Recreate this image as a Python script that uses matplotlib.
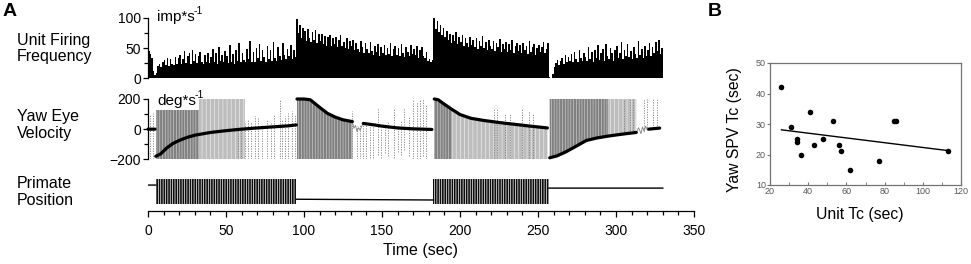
import numpy as np
import matplotlib
matplotlib.use("Agg")
import matplotlib.pyplot as plt
from matplotlib.ticker import MultipleLocator

plt.rcParams['font.family'] = ['Liberation Sans', 'DejaVu Sans']
plt.rcParams['hatch.linewidth'] = 0.5

# ---------------- data: panel A ----------------
# unit firing frequency (imp/s), 1-s bins starting at t = 0
fire_rate = [
    45, 40, 33, 12, 5, 8, 20, 24, 18, 27,
    30, 22, 34, 20, 31, 24, 22, 35, 23, 33,
    38, 24, 32, 45, 25, 36, 42, 24, 47, 28,
    40, 25, 36, 44, 26, 24, 38, 27, 41, 25,
    35, 48, 26, 42, 24, 52, 28, 39, 26, 45,
    37, 25, 55, 27, 40, 24, 46, 29, 58, 26,
    42, 30, 26, 48, 32, 62, 27, 44, 27, 50,
    33, 57, 28, 46, 35, 27, 53, 31, 47, 29,
    60, 34, 28, 52, 37, 30, 58, 39, 32, 49,
    37, 55, 31, 47, 35, 98, 75, 88, 66, 84,
    78, 62, 82, 67, 60, 76, 64, 80, 58, 73,
    61, 74, 56, 70, 53, 68, 72, 54, 66, 57,
    69, 51, 63, 72, 54, 60, 50, 66, 48, 62,
    53, 64, 46, 59, 49, 44, 61, 51, 42, 58,
    48, 41, 60, 45, 39, 54, 43, 57, 37, 51,
    42, 55, 38, 50, 40, 58, 36, 48, 53, 39,
    50, 37, 56, 41, 35, 52, 43, 36, 55, 40,
    49, 38, 54, 34, 46, 51, 36, 33, 43, 28,
    32, 26, 30, 100, 82, 95, 77, 88, 72, 84,
    68, 79, 63, 74, 59, 71, 62, 76, 57, 68,
    60, 72, 54, 67, 58, 51, 69, 55, 64, 52,
    66, 49, 61, 54, 70, 50, 60, 46, 63, 53,
    48, 62, 45, 58, 51, 65, 44, 56, 49, 60,
    43, 57, 47, 63, 42, 53, 59, 45, 55, 41,
    58, 46, 54, 40, 61, 44, 52, 57, 39, 50,
    55, 43, 51, 60, 41, 48, 58, 2, 0, 6,
    18, 25, 30, 22, 28, 33, 24, 38, 27, 35,
    29, 40, 26, 44, 31, 27, 47, 33, 29, 42,
    35, 28, 52, 32, 43, 27, 46, 34, 55, 30,
    41, 48, 29, 57, 36, 32, 50, 41, 28, 46,
    53, 33, 42, 60, 31, 47, 37, 56, 35, 45,
    32, 51, 40, 34, 62, 38, 48, 33, 54, 36,
    46, 58, 37, 52, 41, 60, 45, 63, 40, 50,
]

# slow-phase eye velocity (deg/s); NaN separates segments
spv_t = [0, 4.5, np.nan,
         5, 8, 12, 16, 20, 25, 30, 40, 50, 60, 70, 80, 90, 95, np.nan,
         95.5, 100, 104, 110, 115, 120, 125, 131, np.nan,
         138, 145, 150, 160, 170, 182, np.nan,
         183.5, 186, 190, 195, 200, 207, 215, 225, 235, 245, 256, np.nan,
         257.5, 262, 268, 275, 281, 288, 295, 302, 308, 313, np.nan,
         321, 328]
spv_v = [0, 0, np.nan,
         -180, -165, -125, -95, -75, -55, -40, -22, -10, 0, 8, 15, 22, 28, np.nan,
         200, 200, 195, 145, 105, 80, 62, 50, np.nan,
         38, 28, 20, 8, 2, -2, np.nan,
         200, 195, 165, 130, 97, 72, 58, 44, 32, 20, 8, np.nan,
         -190, -178, -150, -110, -75, -58, -46, -36, -28, -22, np.nan,
         0, 7]

# noisy eye-velocity stretches (deg/s)
noise_t = [131, 132, 133, 134, 135, 136, 137, 138, np.nan,
           313, 314.5, 316, 317, 318, 319, 320, 321]
noise_v = [50, 5, 25, -15, 10, -8, 20, 38, np.nan,
           -22, 10, -30, 15, -15, 20, -5, 0]

# dense fast-phase bands: start, end, low, high (None = follow slow-phase curve)
band_t0 = [5, 33, 95.5, 183.5, 195, 257.5, 295]
band_t1 = [33, 62, 131, 195, 256, 295, 313]
band_lo = [-200, -200, -200, -200, -200, None, None]
band_hi = [130, 200, None, None, None, 200, 200]
band_dense = [True, False, True, True, False, True, False]

# isolated fast phases (time, low, high)
fp_t = [1.5, 3,
        58, 59.5, 62, 64, 66, 68.5, 70.5, 73, 76.5, 79, 81, 84.5, 86, 88, 90, 92, 94,
        130.5, 134, 136, 138, 140, 142, 144, 147.5, 149.5, 152, 154, 157.5, 160, 162,
        164, 167, 170, 172.5, 174.5, 176, 178,
        222, 224, 229, 232, 240, 244, 247,
        305, 309, 311, 318, 320, 324, 326]
fp_lo = [-200, -200,
         -200, -200, -200, -200, -200, -200, -200, -200, -200, -200, -200, -200, -200, -200, -200, -200, -200,
         -200, -200, -200, -200, -200, -190, -190, -170, -190, -160, -180, -190, -150, -170,
         -140, -180, -200, -200, -200, -180, -200,
         -190, -190, -190, -190, -190, -190, -190,
         -30, -25, -25, -10, -5, 5, 5]
fp_hi = [100, 110,
         0, 10, 40, 60, 50, 90, 80, 30, 60, 40, 100, 200, 60, 90, 110, 120, 100,
         120, 20, 30, 30, 40, 20, 30, 140, 10, 20, 50, 140, 30, 60,
         140, 90, 200, 180, 200, 200, 160,
         140, 140, 110, 100, 140, 120, 100,
         200, 200, 200, 200, 200, 200, 200]

# primate position (arbitrary units): steady levels and oscillation epochs
pos_t = [0, 5, np.nan, 95, 183, np.nan, 257, 330]
pos_v = [0.52, 0.52, np.nan, -0.6, -0.66, np.nan, 0.28, 0.28]
osc_start = [5, 183]
osc_end = [95, 257]
osc_amp = [1.0, 1.0]

# ---------------- data: panel B ----------------
unit_tc = [26, 31, 34, 34, 36, 41, 43, 48, 53, 56, 57, 62, 77, 85, 86, 113]
yaw_tc = [42, 29, 25, 24, 20, 34, 23, 25, 31, 23, 21, 15, 18, 31, 31, 21]

# ---------------- layout ----------------
W, H = 971, 264
fig = plt.figure(figsize=(W / 100, H / 100), dpi=100)


def rect(x0, ytop, x1, ybot):
    return [x0 / W, 1 - ybot / H, (x1 - x0) / W, (ybot - ytop) / H]


def ftext(x, y, s, **kw):
    return fig.text(x / W, 1 - y / H, s, **kw)


ax1 = fig.add_axes(rect(148, 18, 694, 78))
ax2 = fig.add_axes(rect(148, 99, 694, 159.3))
ax3 = fig.add_axes(rect(148, 175, 694, 211))
axB = fig.add_axes(rect(770, 63, 961, 185))

for ax in (ax1, ax2, ax3):
    ax.set_xlim(0, 350)
    ax.patch.set_visible(False)
    for s in ('top', 'right'):
        ax.spines[s].set_visible(False)

# firing histogram
edges = np.arange(len(fire_rate) + 1)
ax1.stairs(fire_rate, edges, fill=True, color='black', linewidth=0)
ax1.set_ylim(0, 100)
ax1.spines['bottom'].set_visible(False)
ax1.set_xticks([])
ax1.yaxis.set_major_locator(MultipleLocator(50))
ax1.yaxis.set_minor_locator(MultipleLocator(25))
ax1.tick_params(axis='y', which='major', direction='out', length=3.5, width=0.9,
                labelsize=10, pad=1.5)
ax1.tick_params(axis='y', which='minor', direction='out', length=3, width=0.9)
ax1.spines['left'].set_linewidth(0.9)

# eye velocity
t_arr = np.array(spv_t, dtype=float)
v_arr = np.array(spv_v, dtype=float)
ok = ~np.isnan(t_arr)
tv, vv = t_arr[ok], v_arr[ok]
for t0, t1, lo, hi, dense in zip(band_t0, band_t1, band_lo, band_hi, band_dense):
    if lo is None or hi is None:
        m = (tv >= t0) & (tv <= t1)
        tt = tv[m]
        lo_v = vv[m] if lo is None else np.full(tt.size, lo, dtype=float)
        hi_v = vv[m] if hi is None else np.full(tt.size, hi, dtype=float)
    else:
        tt = np.array([t0, t1], dtype=float)
        lo_v = np.array([lo, lo], dtype=float)
        hi_v = np.array([hi, hi], dtype=float)
    if dense:
        ax2.fill_between(tt, lo_v, hi_v, facecolor='0.5', edgecolor='0.78',
                         hatch='||||||', linewidth=0)
    else:
        ax2.fill_between(tt, lo_v, hi_v, facecolor='0.74', edgecolor='0.92',
                         hatch='||||', linewidth=0)
ax2.vlines(fp_t, fp_lo, fp_hi, colors='0.5', linewidth=0.6,
           linestyles=(0, (1.5, 1.5)))
ax2.plot(noise_t, noise_v, color='0.5', linewidth=0.6)
ax2.plot(spv_t, spv_v, color='black', linewidth=2.3, solid_capstyle='round',
         clip_on=False)
ax2.set_ylim(-200, 200)
ax2.spines['bottom'].set_visible(False)
ax2.set_xticks([])
ax2.yaxis.set_major_locator(MultipleLocator(200))
ax2.yaxis.set_minor_locator(MultipleLocator(100))
ax2.tick_params(axis='y', which='major', direction='out', length=3.5, width=0.9,
                labelsize=10, pad=1.5)
ax2.tick_params(axis='y', which='minor', direction='out', length=3, width=0.9)
ax2.spines['left'].set_linewidth(0.9)

# unit labels with superscript
ftext(157, 21, 'imp*s', fontsize=11, ha='left', va='baseline')
ftext(194, 14.5, '-1', fontsize=7.5, ha='left', va='baseline')
ftext(157, 105, 'deg*s', fontsize=11, ha='left', va='baseline')
ftext(194.5, 98.5, '-1', fontsize=7.5, ha='left', va='baseline')

# primate position
ax3.plot(pos_t, pos_v, color='black', linewidth=1.0)
for s0, s1, a in zip(osc_start, osc_end, osc_amp):
    ax3.fill_between([s0, s1], [-a, -a], [a, a], facecolor='0.05',
                     edgecolor='white', hatch='|||||||', linewidth=0)
ax3.set_ylim(-1.53, 1.316)
ax3.spines['left'].set_visible(False)
ax3.set_yticks([])
ax3.xaxis.set_major_locator(MultipleLocator(50))
ax3.xaxis.set_minor_locator(MultipleLocator(10))
ax3.tick_params(axis='x', which='major', direction='out', length=4.5, width=0.9,
                labelsize=10, pad=5)
ax3.tick_params(axis='x', which='minor', direction='out', length=3, width=0.9)
ax3.spines['bottom'].set_linewidth(0.9)

ftext(420, 251, 'Time (sec)', ha='center', va='center', fontsize=11.5)
ftext(17, 48.5, 'Unit Firing\nFrequency', ha='left', va='center',
      fontsize=11.5, linespacing=1.15)
ftext(17, 125, 'Yaw Eye\nVelocity', ha='left', va='center',
      fontsize=11.5, linespacing=1.15)
ftext(17, 192, 'Primate\nPosition', ha='left', va='center',
      fontsize=11.5, linespacing=1.15)
ftext(3, 3, 'A', ha='left', va='top', fontsize=14, fontweight='bold')
ftext(708, 3, 'B', ha='left', va='top', fontsize=14, fontweight='bold')

# panel B
axB.plot(unit_tc, yaw_tc, 'o', color='black', markersize=4, markeredgewidth=0)
slope, icpt = np.polyfit(unit_tc, yaw_tc, 1)
xl = np.array([min(unit_tc), max(unit_tc)], dtype=float)
axB.plot(xl, slope * xl + icpt, color='black', linewidth=1.0)
axB.set_xlim(20, 120)
axB.set_ylim(10, 50)
axB.xaxis.set_major_locator(MultipleLocator(20))
axB.xaxis.set_minor_locator(MultipleLocator(10))
axB.yaxis.set_major_locator(MultipleLocator(10))
for s in axB.spines.values():
    s.set_color('0.45')
    s.set_linewidth(0.9)
axB.tick_params(axis='x', which='both', direction='in', colors='0.45',
                labelcolor='0.35', labelsize=6.5, pad=1.5, length=2.5)
axB.tick_params(axis='y', which='both', direction='out', colors='0.45',
                labelcolor='0.35', labelsize=6.5, pad=1, length=2)
ftext(734, 130, 'Yaw SPV Tc (sec)', rotation=90, ha='center', va='center',
      fontsize=11.3)
ftext(860, 214, 'Unit Tc (sec)', ha='center', va='center', fontsize=11.3)

fig.savefig('out.png', dpi=100)
